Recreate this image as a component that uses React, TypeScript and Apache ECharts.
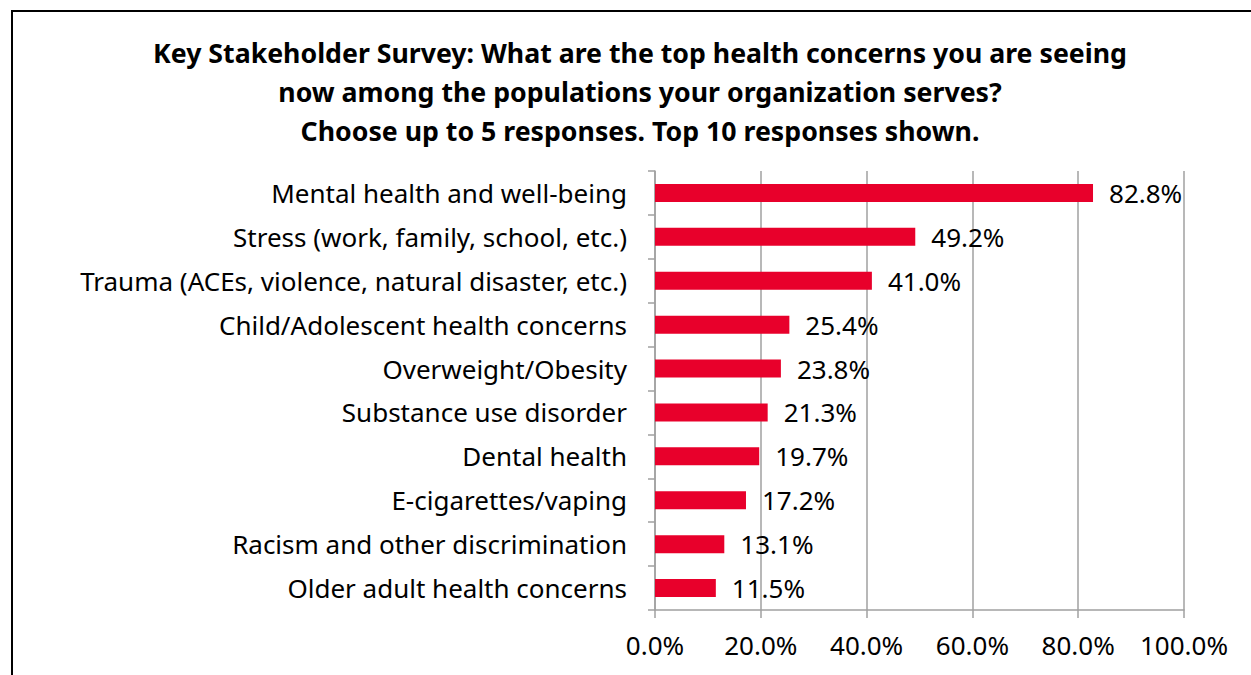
import React, { useEffect, useRef } from "react";
import * as echarts from "echarts";

const categories = [
  "Mental health and well-being",
  "Stress (work, family, school, etc.)",
  "Trauma (ACEs, violence, natural disaster, etc.)",
  "Child/Adolescent health concerns",
  "Overweight/Obesity",
  "Substance use disorder",
  "Dental health",
  "E-cigarettes/vaping",
  "Racism and other discrimination",
  "Older adult health concerns",
];
const values = [82.8, 49.2, 41.0, 25.4, 23.8, 21.3, 19.7, 17.2, 13.1, 11.5];
const titleLines = [
  "Key Stakeholder Survey: What are the top health concerns you are seeing",
  "now among the populations your organization serves?",
  "Choose up to 5 responses. Top 10 responses shown.",
];

const FONT = "'Noto Sans', 'Open Sans', sans-serif";

export default function App() {
  const ref = useRef<HTMLDivElement>(null);
  useEffect(() => {
    document.body.style.margin = "0";
    const chart = echarts.init(ref.current!, null, { renderer: "svg" });
    chart.setOption({
      animation: false,
      backgroundColor: "#ffffff",
      title: {
        text: titleLines.join("\n"),
        left: 635,
        top: 28,
        textAlign: "center",
        textStyle: {
          fontFamily: FONT,
          fontWeight: "bold",
          fontSize: 26.7,
          lineHeight: 39,
          color: "#000",
        },
      },
      graphic: [
        {
          type: "rect",
          shape: { x: 12, y: 11, width: 1300, height: 700 },
          style: { fill: "none", stroke: "#000", lineWidth: 2 },
          silent: true,
        },
      ],
      grid: { left: 655, right: 67, top: 171, bottom: 65, containLabel: false },
      xAxis: {
        type: "value",
        min: 0,
        max: 100,
        interval: 20,
        axisLine: { show: true, lineStyle: { color: "#a0a0a0", width: 1.5 } },
        axisTick: { show: true, length: 8, lineStyle: { color: "#a0a0a0", width: 1.5 } },
        splitLine: { show: true, lineStyle: { color: "#a0a0a0", width: 1.5 } },
        axisLabel: {
          formatter: (v: number) => v.toFixed(1) + "%",
          fontFamily: FONT,
          fontSize: 26,
          color: "#000",
          margin: 22,
        },
      },
      yAxis: {
        type: "category",
        data: categories,
        inverse: true,
        axisLine: { show: true, lineStyle: { color: "#a0a0a0", width: 1.5 } },
        axisTick: { show: true, length: 7, lineStyle: { color: "#a0a0a0", width: 1.5 } },
        axisLabel: {
          fontFamily: FONT,
          fontSize: 26,
          color: "#000",
          margin: 28,
        },
      },
      series: [
        {
          type: "bar",
          data: values,
          barWidth: 18,
          itemStyle: { color: "#E8002B" },
          label: {
            show: true,
            position: "right",
            distance: 16,
            formatter: (p: any) => Number(p.value).toFixed(1) + "%",
            fontFamily: FONT,
            fontSize: 26,
            color: "#000",
          },
        },
      ],
    });
    return () => chart.dispose();
  }, []);
  return <div ref={ref} style={{ width: 1251, height: 675 }} />;
}
